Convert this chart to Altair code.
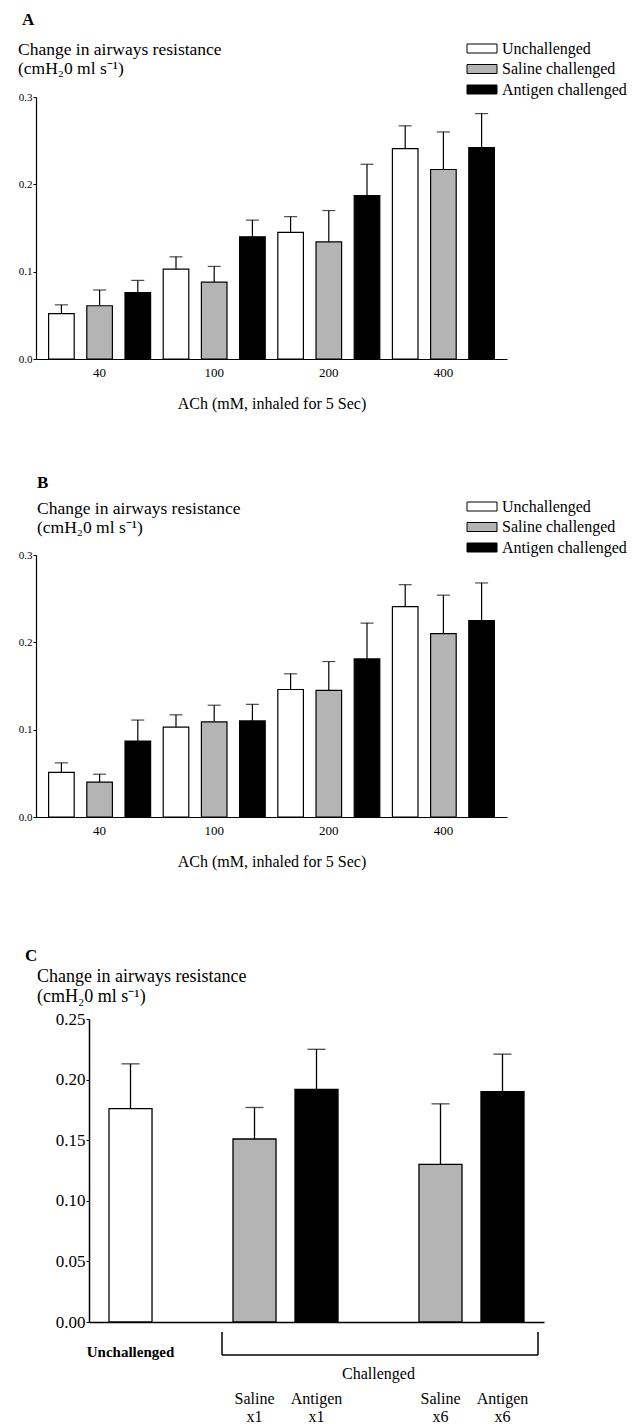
import altair as alt
import pandas as pd

FONT = "Liberation Serif"

# ---------------- data ----------------
doses = ["40", "100", "200", "400"]
groups = ["Unchallenged", "Saline challenged", "Antigen challenged"]
fills = ["#ffffff", "#b4b4b4", "#000000"]

# Panel A (mean, SEM) per group across doses
a_unch = [0.052, 0.103, 0.145, 0.241]
a_unch_sem = [0.010, 0.014, 0.018, 0.026]
a_sal = [0.061, 0.088, 0.134, 0.217]
a_sal_sem = [0.018, 0.018, 0.036, 0.043]
a_ant = [0.076, 0.140, 0.187, 0.242]
a_ant_sem = [0.014, 0.019, 0.036, 0.039]

# Panel B
b_unch = [0.051, 0.103, 0.146, 0.241]
b_unch_sem = [0.011, 0.014, 0.018, 0.025]
b_sal = [0.040, 0.109, 0.145, 0.210]
b_sal_sem = [0.009, 0.019, 0.033, 0.044]
b_ant = [0.087, 0.110, 0.181, 0.225]
b_ant_sem = [0.024, 0.019, 0.041, 0.043]

# Panel C
c_slots = ["Unchallenged", "gap1", "Saline x1", "Antigen x1", "Challenged", "Saline x6", "Antigen x6"]
c_bars = ["Unchallenged", "Saline x1", "Antigen x1", "Saline x6", "Antigen x6"]
c_kind = ["Unchallenged", "Saline challenged", "Antigen challenged", "Saline challenged", "Antigen challenged"]
c_mean = [0.176, 0.151, 0.192, 0.130, 0.190]
c_sem = [0.037, 0.026, 0.033, 0.050, 0.031]
c_lab_at = ["Saline x1", "Antigen x1", "Saline x6", "Antigen x6"]
c_lab1 = ["Saline", "Antigen", "Saline", "Antigen"]
c_lab2 = ["x1", "x1", "x6", "x6"]

y_title = ["Change in airways resistance", "(cmH\u20820 ml s\u207b\u00b9)"]
x_title = "ACh (mM, inhaled for 5 Sec)"


def txt(text, x, y, size=16, weight="normal", align="left"):
    return alt.Chart(pd.DataFrame({"t": [text]})).mark_text(
        font=FONT, fontSize=size, fontWeight=weight, align=align,
        baseline="middle", color="black"
    ).encode(x=alt.value(x), y=alt.value(y), text="t:N")


def anchor(x1, x2, y1, y2):
    return alt.Chart(pd.DataFrame({"k": [0]})).mark_rule(
        opacity=0, strokeOpacity=0
    ).encode(x=alt.value(x1), x2=alt.value(x2), y=alt.value(y1), y2=alt.value(y2))


def dose_panel(means, sems, letter, top_rel, bottom_rel, hx, lx, ly, hy):
    rows = []
    for g, ml, sl in zip(groups, means, sems):
        for d, m, s in zip(doses, ml, sl):
            rows.append({"dose": d, "group": g, "mean": m, "top": m + s})
    df = pd.DataFrame(rows)
    base = alt.Chart(df)
    xenc = alt.X(
        "dose:N", sort=doses,
        scale=alt.Scale(domain=doses, paddingInner=0, paddingOuter=0.055),
        axis=alt.Axis(
            title=x_title, labelAngle=0, ticks=False, domainColor="black",
            domainWidth=1.2, labelFont=FONT, labelFontSize=13, labelColor="black",
            labelPadding=7, titleFont=FONT, titleFontSize=16,
            titleFontWeight="normal", titleColor="black", titlePadding=16,
        ),
    )
    xoff = alt.XOffset(
        "group:N", sort=groups,
        scale=alt.Scale(domain=groups, paddingInner=0.33, paddingOuter=0.165),
    )
    yenc = alt.Y(
        "mean:Q", scale=alt.Scale(domain=[0, 0.3], nice=False),
        axis=alt.Axis(
            title=None, values=[0, 0.1, 0.2, 0.3], format=".1f", grid=False,
            tickSize=3, tickColor="black", domainColor="black", domainWidth=1.2,
            labelFont=FONT, labelFontSize=11, labelColor="black", labelPadding=1,
        ),
    )
    legend = alt.Legend(
        title=None, orient="none", legendX=435.5, legendY=-59, direction="vertical",
        symbolType="M-1.5,-0.45H1.5V0.45H-1.5Z", symbolSize=400,
        symbolStrokeColor="black", symbolStrokeWidth=1, symbolOpacity=1,
        labelFont=FONT, labelFontSize=16, labelColor="black", labelOffset=9.5,
        rowPadding=1.5, labelLimit=300,
    )
    stems = base.mark_rule(color="black", strokeWidth=1.2).encode(
        x=xenc, xOffset=xoff, y=yenc, y2="top:Q")
    caps = base.mark_tick(color="black", thickness=1.2, size=13, orient="horizontal").encode(
        x=xenc, xOffset=xoff, y=alt.Y("top:Q", scale=alt.Scale(domain=[0, 0.3], nice=False)))
    bars = base.mark_bar(stroke="black", strokeWidth=1.2).encode(
        x=xenc, xOffset=xoff, y=yenc,
        fill=alt.Fill("group:N", sort=groups, scale=alt.Scale(domain=groups, range=fills), legend=legend),
    )
    layers = [
        anchor(-36, 598, top_rel, bottom_rel),
        stems, caps, bars,
        txt(letter, lx, ly, size=17, weight="bold"),
        txt(y_title[0], hx, hy[0], size=17.5),
        txt(y_title[1], hx, hy[1], size=17.5),
    ]
    return alt.layer(*layers).properties(width=471, height=262)


pa = dose_panel([a_unch, a_sal, a_ant], [a_unch_sem, a_sal_sem, a_ant_sem], "A", -97, 363,
                hx=-18, lx=-14, ly=-77, hy=(-47, -28))
pb = dose_panel([b_unch, b_sal, b_ant], [b_unch_sem, b_sal_sem, b_ant_sem], "B", -95, 385,
                hx=1, lx=1, ly=-72, hy=(-46, -27))

# ---------------- panel C ----------------
dfc = pd.DataFrame({"cat": c_bars, "kind": c_kind, "mean": c_mean,
                    "top": [m + s for m, s in zip(c_mean, c_sem)]})
xc = alt.X(
    "cat:N", sort=c_slots,
    scale=alt.Scale(domain=c_slots, range=[53, 508], paddingInner=0.306, paddingOuter=0.3225),
    axis=alt.Axis(title=None, labels=False, ticks=False, domainColor="black", domainWidth=1.5),
)
yc = alt.Y(
    "mean:Q", scale=alt.Scale(domain=[0, 0.25], nice=False),
    axis=alt.Axis(
        title=None, values=[0, 0.05, 0.1, 0.15, 0.2, 0.25], format=".2f", grid=False,
        tickSize=3, tickColor="black", domainColor="black", domainWidth=1.5,
        labelFont=FONT, labelFontSize=17, labelColor="black", labelPadding=1,
        offset=-53,
    ),
)
cbase = alt.Chart(dfc)
c_stems = cbase.mark_rule(color="black", strokeWidth=1.3).encode(x=xc, y=yc, y2="top:Q")
c_caps = cbase.mark_tick(color="black", thickness=1.3, size=18, orient="horizontal").encode(
    x=xc, y=alt.Y("top:Q", scale=alt.Scale(domain=[0, 0.25], nice=False)))
c_bars_m = cbase.mark_bar(stroke="black", strokeWidth=1.3).encode(
    x=xc, y=yc,
    fill=alt.Fill("kind:N", scale=alt.Scale(domain=groups, range=fills), legend=None),
)
labs = pd.DataFrame({"cat": c_lab_at, "l1": c_lab1, "l2": c_lab2})
lab1 = alt.Chart(labs).mark_text(font=FONT, fontSize=16, color="black", baseline="middle").encode(
    x=xc, y=alt.value(380), text="l1:N")
lab2 = alt.Chart(labs).mark_text(font=FONT, fontSize=16, color="black", baseline="middle").encode(
    x=xc, y=alt.value(398), text="l2:N")
grp = pd.DataFrame({"cat": ["Unchallenged"], "t": ["Unchallenged"]})
grp_lab = alt.Chart(grp).mark_text(font=FONT, fontSize=15, fontWeight="bold", color="black",
                                   baseline="middle").encode(x=xc, y=alt.value(333), text="t:N")
chal = pd.DataFrame({"cat": ["Challenged"], "t": ["Challenged"]})
chal_lab = alt.Chart(chal).mark_text(font=FONT, fontSize=16, color="black",
                                     baseline="middle").encode(x=xc, y=alt.value(355), text="t:N")
k = pd.DataFrame({"k": [0]})
br_h = alt.Chart(k).mark_rule(color="black", strokeWidth=1.5).encode(
    x=alt.value(186), x2=alt.value(502), y=alt.value(336))
br_l = alt.Chart(k).mark_rule(color="black", strokeWidth=1.5).encode(
    x=alt.value(186), y=alt.value(313), y2=alt.value(336))
br_r = alt.Chart(k).mark_rule(color="black", strokeWidth=1.5).encode(
    x=alt.value(502), y=alt.value(313), y2=alt.value(336))

pc = alt.layer(
    anchor(-36, 598, -79, 405),
    c_stems, c_caps, c_bars_m, lab1, lab2, grp_lab, chal_lab, br_h, br_l, br_r,
    txt("C", -11, -63, size=17, weight="bold"),
    txt(y_title[0], 1, -42, size=18),
    txt(y_title[1], 1, -22, size=18),
).properties(width=508, height=303)

chart = alt.vconcat(pa, pb, pc, spacing=0).resolve_scale(
    x="independent", y="independent", xOffset="independent", fill="independent"
).resolve_legend(fill="independent").properties(
    padding=0, background="white"
).configure_view(stroke=None)

chart.save("out.html", embed_options={"renderer": "svg", "actions": False})
